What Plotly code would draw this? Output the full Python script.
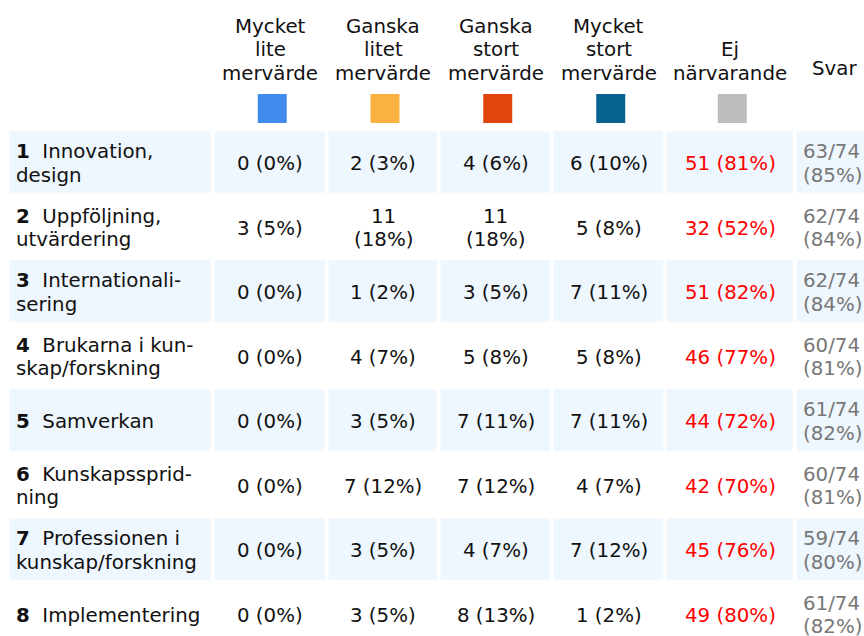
import plotly.graph_objects as go

# ---------------- data ----------------
row_numbers = [1, 2, 3, 4, 5, 6, 7, 8]
row_labels = [
    "Innovation,<br>design",
    "Uppföljning,<br>utvärdering",
    "Internationali-<br>sering",
    "Brukarna i kun-<br>skap/forskning",
    "Samverkan",
    "Kunskapssprid-<br>ning",
    "Professionen i<br>kunskap/forskning",
    "Implementering",
]
column_headers = [
    "Mycket<br>lite<br>mervärde",
    "Ganska<br>litet<br>mervärde",
    "Ganska<br>stort<br>mervärde",
    "Mycket<br>stort<br>mervärde",
    "Ej<br>närvarande",
]
svar_header = "Svar"
series_colors = ["#428BEE", "#FBB142", "#E0450C", "#06628F", "#BDBDBD"]

mycket_lite_n = [0, 3, 0, 0, 0, 0, 0, 0]
mycket_lite_pct = [0, 5, 0, 0, 0, 0, 0, 0]
ganska_litet_n = [2, 11, 1, 4, 3, 7, 3, 3]
ganska_litet_pct = [3, 18, 2, 7, 5, 12, 5, 5]
ganska_stort_n = [4, 11, 3, 5, 7, 7, 4, 8]
ganska_stort_pct = [6, 18, 5, 8, 11, 12, 7, 13]
mycket_stort_n = [6, 5, 7, 5, 7, 4, 7, 1]
mycket_stort_pct = [10, 8, 11, 8, 11, 7, 12, 2]
ej_n = [51, 32, 51, 46, 44, 42, 45, 49]
ej_pct = [81, 52, 82, 77, 72, 70, 76, 80]
svar_n = [63, 62, 62, 60, 61, 60, 59, 61]
svar_total = 74
svar_pct = [85, 84, 84, 81, 82, 81, 80, 82]

series_n = [mycket_lite_n, ganska_litet_n, ganska_stort_n, mycket_stort_n, ej_n]
series_pct = [mycket_lite_pct, ganska_litet_pct, ganska_stort_pct, mycket_stort_pct, ej_pct]

# ---------------- layout constants (screen pixels) ----------------
W, H = 864, 636
FONT = "DejaVu Sans"
FS = 19.8
LINE = 23.5
DARK = "#111111"
col_edges = [8.5, 213.5, 327, 439, 552.5, 665, 795.5, 871]
row_top = 130.25
row_pitch = 64.5
n_rows = len(row_labels)
row_edges = [row_top + row_pitch * i for i in range(n_rows + 1)]
col_centers = [(col_edges[i] + col_edges[i + 1]) / 2 for i in range(len(col_edges) - 1)]
row_centers = [(row_edges[i] + row_edges[i + 1]) / 2 for i in range(n_rows)]

fig = go.Figure()

# alternating row shading as a heatmap with gaps
z = [[1 if i % 2 == 0 else 0] * (len(col_edges) - 1) for i in range(n_rows)]
fig.add_trace(go.Heatmap(
    x=col_edges, y=row_edges, z=z,
    colorscale=[[0, "rgba(255,255,255,0)"], [1, "#EEF6FE"]],
    zmin=0, zmax=1, showscale=False, xgap=3.5, ygap=3.5, hoverinfo="skip",
))

# legend swatches under headers
fig.add_trace(go.Scatter(
    x=[c + 2 for c in col_centers[1:6]], y=[108.5] * 5, mode="markers",
    marker=dict(symbol="square", size=29, color=series_colors, line=dict(width=0)),
    hoverinfo="skip", showlegend=False,
))

ann = []


def add_lines(text, x, y_center=None, y_last=None, xanchor="center", color=DARK):
    lines = text.split("<br>")
    n = len(lines)
    if y_last is not None:
        ys = [y_last - LINE * (n - 1 - k) for k in range(n)]
    else:
        ys = [y_center + LINE * (k - (n - 1) / 2) for k in range(n)]
    for ln, yy in zip(lines, ys):
        ann.append(dict(x=x, y=yy, xanchor=xanchor, yanchor="middle", text=ln,
                        font=dict(color=color)))


# headers
for j, h in enumerate(column_headers):
    add_lines(h, col_centers[j + 1], y_last=73)
add_lines(svar_header, 834, y_last=68)

# row labels
for i in range(n_rows):
    lines = row_labels[i].split("<br>")
    lines[0] = f"<b>{row_numbers[i]}</b>\u00a0\u00a0" + lines[0]
    add_lines("<br>".join(lines), 13.5, y_center=row_centers[i] + 1, xanchor="left")

# cells
for j in range(5):
    for i in range(n_rows):
        n, p = series_n[j][i], series_pct[j][i]
        txt = f"{n} ({p}%)"
        if j < 4 and len(txt) > 7:
            txt = f"{n}<br>({p}%)"
        color = "#FF0000" if j == 4 else DARK
        add_lines(txt, col_centers[j + 1], y_center=row_centers[i] + 1, color=color)

for i in range(n_rows):
    add_lines(f"{svar_n[i]}/{svar_total}<br>({svar_pct[i]}%)", 800.5,
              y_center=row_centers[i] + 1, xanchor="left", color="#777777")

for a in ann:
    a["showarrow"] = False
    a["xref"] = "x"
    a["yref"] = "y"
    a["font"].update(family=FONT, size=FS)

fig.update_layout(
    width=W, height=H,
    margin=dict(l=0, r=0, t=0, b=0),
    paper_bgcolor="white", plot_bgcolor="white",
    xaxis=dict(range=[0, W], visible=False, fixedrange=True),
    yaxis=dict(range=[H, 0], visible=False, fixedrange=True),
    annotations=ann,
    showlegend=False,
)

fig.write_html(
    "out.html",
    config={"displayModeBar": False},
    post_script="document.body.style.margin='0';document.body.style.overflow='hidden';",
)
